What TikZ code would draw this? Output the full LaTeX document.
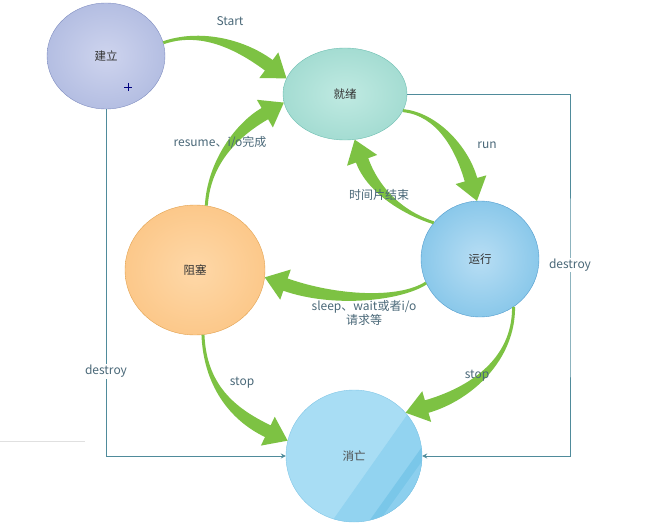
\documentclass[tikz,border=0pt]{standalone}
\usepackage{fontspec}
\setmainfont{Noto Sans CJK SC}
\usetikzlibrary{shapes,arrows.meta,positioning,calc}

\definecolor{flowgreen}{HTML}{7DC243}
\definecolor{linkteal}{HTML}{4F8B9B}
\definecolor{labelgray}{HTML}{4A6878}
\definecolor{createin}{HTML}{CED4EE}
\definecolor{createout}{HTML}{B4BEE2}
\definecolor{createline}{HTML}{7F8DC0}
\definecolor{readyin}{HTML}{C0EAE2}
\definecolor{readyout}{HTML}{A4DCD2}
\definecolor{readyline}{HTML}{6CBEB0}
\definecolor{runin}{HTML}{B8DEF4}
\definecolor{runout}{HTML}{8AC8EA}
\definecolor{runline}{HTML}{509BCD}
\definecolor{blockin}{HTML}{FED8A8}
\definecolor{blockout}{HTML}{FCC88A}
\definecolor{blockline}{HTML}{E2A250}
\definecolor{deadfill}{HTML}{A8DDF4}
\definecolor{deadline}{HTML}{82C6E6}
\definecolor{deadband}{HTML}{92D3F0}
\definecolor{deadbandb}{HTML}{7AC7E9}
\definecolor{deadbandc}{HTML}{8CCFEE}

% tapered green arrow: tail, control 1, control 2, tip
\newcommand{\flowarrow}[4]{%
  \path #1 coordinate (fa-t) #2 coordinate (fa-a) #3 coordinate (fa-b) #4 coordinate (fa-p);
  \path ($(fa-p)!22pt!(fa-b)$) coordinate (fa-h)
    ($(fa-h)!6.5pt!90:(fa-b)$) coordinate (fa-h1)
    ($(fa-h)!6.5pt!-90:(fa-b)$) coordinate (fa-h2)
    ($(fa-h)!16pt!90:(fa-b)$) coordinate (fa-w1)
    ($(fa-h)!16pt!-90:(fa-b)$) coordinate (fa-w2)
    ($(fa-t)!1.5pt!-90:(fa-a)$) coordinate (fa-t1)
    ($(fa-t)!1.5pt!90:(fa-a)$) coordinate (fa-t2);
  \fill[flow] (fa-t1) .. controls ($(fa-a)+(fa-t1)-(fa-t)$) and ($(fa-b)+(fa-h1)-(fa-h)$) .. (fa-h1)
    -- (fa-w1) -- (fa-p) -- (fa-w2) -- (fa-h2)
    .. controls ($(fa-b)+(fa-h2)-(fa-h)$) and ($(fa-a)+(fa-t2)-(fa-t)$) .. (fa-t2) -- cycle;
}

\begin{document}
\begin{tikzpicture}
  [x=1pt, y=-1pt,
  state/.style={ellipse,draw,shade,inner sep=0pt,text=black!80,font=\fontsize{11.5}{13}\selectfont},
  lbl/.style={text=labelgray,font=\fontsize{12}{14}\selectfont,inner sep=1pt},
  kill/.style={linkteal,line width=0.8pt,-{Stealth[length=5pt,width=5pt]}},
  flow/.style={fill=flowgreen,draw=none}]
  \useasboundingbox (0,0) rectangle (659,527);

  \node[state,minimum width=118pt,minimum height=106pt,draw=createline,inner color=createin,outer color=createout] (create) at (106,56) {建立};
  \node[state,minimum width=124pt,minimum height=92pt,draw=readyline,inner color=readyin,outer color=readyout] (ready) at (345,94) {就绪};
  \node[state,minimum width=118pt,minimum height=116pt,draw=runline,inner color=runin,outer color=runout] (running) at (480,259) {运行};
  \node[state,minimum width=140pt,minimum height=130pt,draw=blockline,inner color=blockin,outer color=blockout] (blocked) at (195,270) {阻塞};
  \node[ellipse,draw=deadline,inner sep=0pt,minimum width=136pt,minimum height=132pt,fill=deadfill,
    path picture={
      \fill[deadband] ($(path picture bounding box.center)+(89,-92)$) -- ++(-144,204) -- ++(175,0) -- ++(0,-204) -- cycle;
      \fill[deadbandb] ($(path picture bounding box.center)+(120,-82)$) -- ++(-134,188) -- ++(134,0) -- cycle;
      \fill[deadbandc] ($(path picture bounding box.center)+(112,-56)$) -- ++(-106,148) -- ++(114,0) -- ++(0,-148) -- cycle;
    }] (dying) at (354,456) {};
  \node[text=black!70,font=\fontsize{11.5}{13}\selectfont] (dyingtext) at (dying.center) {消亡};

  % cursor mark inside create
  \draw[blue!50!black,line width=0.7pt] (124,87) -- (132,87) (128,83) -- (128,91);
  \draw[black!12] (0,441) -- (85,441);

  \draw[kill] (create.south) |- (dying.west) node[lbl,fill=white,pos=0.378] (ldestroy1) {destroy};
  \coordinate (rturn) at (570,300);
  \draw[kill] (ready.east) -| (rturn) |- (dying.east);
  \node[lbl,fill=white] (ldestroy2) at (570,265) {destroy};

  \flowarrow{(create.13)}{(200,30)}{(240,44)}{(ready.165)}
  \flowarrow{(ready.-16)}{(437,114)}{(462,148)}{(running.93)}
  \flowarrow{(running.142)}{(400,212)}{(372,188)}{(ready.-78)}
  \flowarrow{(blocked.80)}{(209,160)}{(240,128)}{(ready.188)}
  \flowarrow{(running.204)}{(400,300)}{(335,302)}{(blocked.-6)}
  \flowarrow{(blocked.-83)}{(205,385)}{(232,414)}{(dying.167)}
  \flowarrow{(running.-55)}{(514,360)}{(470,394)}{(dying.40)}

  \node[lbl] (lstart) at (230,21) {Start};
  \node[lbl] (lresume) at (220,142) {resume、i/o完成};
  \node[lbl] (lrun) at (487,145) {run};
  \node[lbl] (lslice) at (379,195) {时间片结束};
  \node[lbl,align=center] (lsleep) at (364,313) {sleep、wait或者i/o\\请求等};
  \node[lbl] (lstop1) at (242,383) {stop};
  \node[lbl] (lstop2) at (477,376) {stop};
\end{tikzpicture}
\end{document}
